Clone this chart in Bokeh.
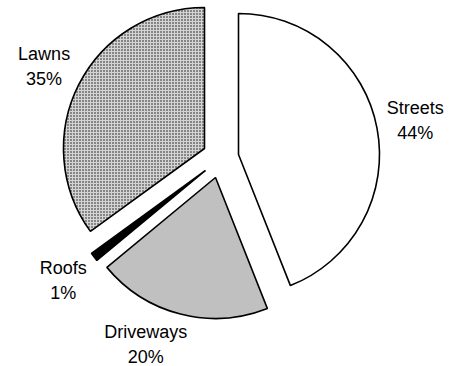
import math
from bokeh.plotting import figure
from bokeh.models import Range1d, ColumnDataSource
from bokeh.embed import file_html
from bokeh.resources import INLINE
from bokeh.core.properties import value

# ---- data ----
categories = ["Streets", "Driveways", "Roofs", "Lawns"]
percents = [44, 20, 1, 35]

# ---- layout / style ----
W, H = 451, 366
center = (214, 206)          # pie centre (data units = pixels, y up)
radius = 141
explode = [(24, 6), (1, -17), (-9, -10), (-10, 12)]   # per-slice shift
label_r = 180
label_nudge = [(0, 0), (-25, 7), (0, 0), (0, 0)]
fills = ["white", "#c0c0c0", "black", "#d4d4d4"]
hatches = [" ", " ", " ", "dot"]

total = float(sum(percents))
starts, ends, xs, ys, lx, ly, texts = [], [], [], [], [], [], []
cum = 0.0
for i, (cat, v) in enumerate(zip(categories, percents)):
    a = cum / total
    b = (cum + v) / total
    cum += v
    # clockwise from 12 o'clock
    th_a = math.radians(90 - 360 * a)
    th_b = math.radians(90 - 360 * b)
    starts.append(th_b)
    ends.append(th_a)
    cx = center[0] + explode[i][0]
    cy = center[1] + explode[i][1]
    xs.append(cx)
    ys.append(cy)
    mid = (th_a + th_b) / 2
    lx.append(cx + label_r * math.cos(mid) + label_nudge[i][0])
    ly.append(cy + label_r * math.sin(mid) + label_nudge[i][1])
    texts.append(f"{cat}\n{v}%")

src = ColumnDataSource(dict(x=xs, y=ys, start=starts, end=ends, fill=fills,
                            hatch=hatches, cat=categories))

p = figure(width=W, height=H, x_range=Range1d(0, W), y_range=Range1d(0, H),
           output_backend="svg", toolbar_location=None,
           x_axis_location=None, y_axis_location=None, min_border=0)
p.grid.visible = False
p.outline_line_color = None
p.background_fill_color = "white"
p.border_fill_color = "white"

p.wedge(x="x", y="y", radius=radius, start_angle="start", end_angle="end",
        direction="anticlock", fill_color="fill", line_color="black",
        line_width=1.6, hatch_pattern="hatch", hatch_color="#101010",
        hatch_scale=3, hatch_weight=2.0, source=src)

p.text(x=lx, y=ly, text=texts, text_align="center", text_baseline="middle",
       text_font=value("Liberation Sans"), text_font_size="18px",
       text_line_height=1.25, text_color="black")

open("out.html", "w").write(file_html(p, INLINE))
